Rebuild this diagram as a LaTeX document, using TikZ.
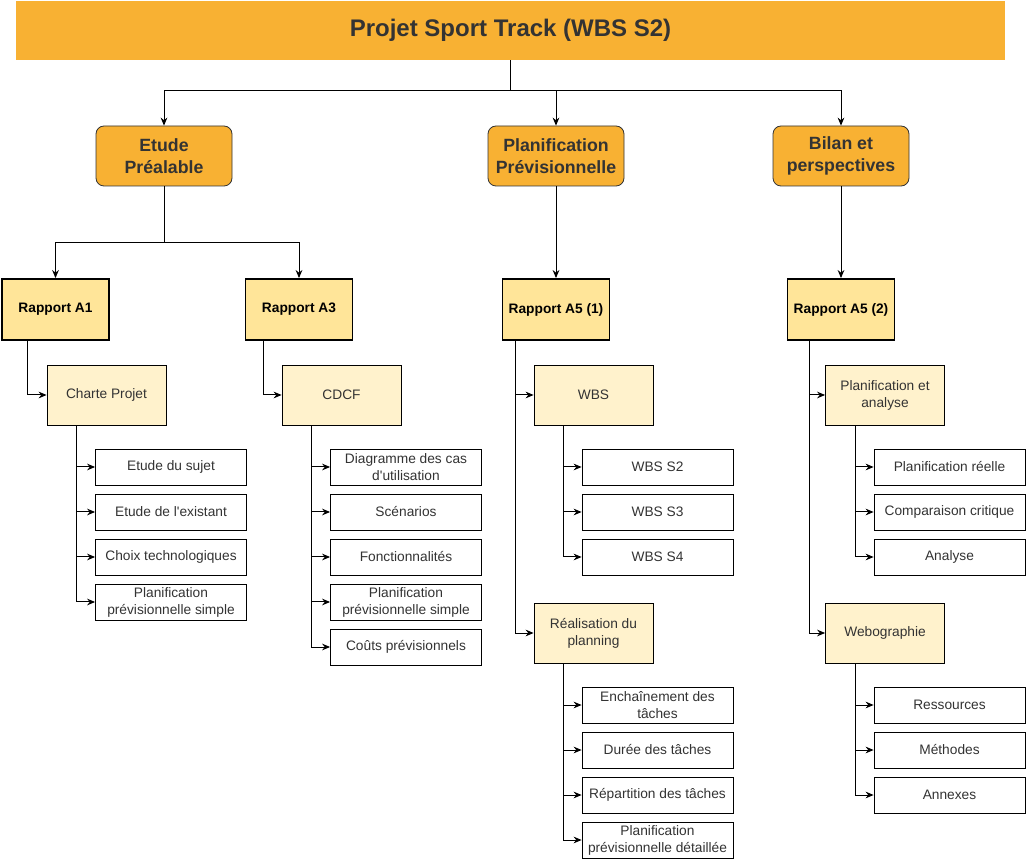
\documentclass[tikz,border=0pt]{standalone}
\usepackage{fontspec}
\setmainfont{Liberation Sans}
\usetikzlibrary{arrows.meta,calc}

\definecolor{wbsorange}{HTML}{F8B133}
\definecolor{wbsyellow}{HTML}{FFE599}
\definecolor{wbscream}{HTML}{FFF2CC}
\definecolor{wbstext}{HTML}{333333}

\tikzset{
  titlebox/.style={fill=wbsorange, minimum width=741.75pt, minimum height=44.25pt,
    inner sep=0pt, text=wbstext, font=\fontsize{18}{21}\selectfont\bfseries},
  phasebox/.style={draw=black!80, fill=wbsorange, rounded corners=6pt, line width=0.6pt,
    minimum width=102pt, minimum height=45pt, inner sep=0pt, align=center,
    text=wbstext, font=\fontsize{13.3}{16.5}\selectfont\bfseries},
  reportbox/.style={draw=black, fill=wbsyellow, line width=1.4pt,
    minimum width=80.25pt, minimum height=45.75pt, inner sep=0pt,
    font=\fontsize{10.3}{12}\selectfont\bfseries},
  partbox/.style={draw=black, fill=wbscream, line width=0.6pt,
    minimum width=89.25pt, minimum height=45pt, inner sep=0pt, align=center,
    text=wbstext, font=\fontsize{10.3}{12.75}\selectfont},
  taskbox/.style={draw=black, fill=white, line width=0.6pt,
    minimum width=113.25pt, minimum height=27pt, inner sep=0pt, align=center,
    text=wbstext, font=\fontsize{10.3}{12.75}\selectfont},
  link/.style={draw=black, line width=0.75pt, -{Stealth[length=6pt,width=5pt]}}
}

\begin{document}
\begin{tikzpicture}[x=0.75pt,y=-0.75pt]
\useasboundingbox (0,0) rectangle (1026,859);

% title and phases
\node[titlebox] (title) at (510.5,30.5) {Projet Sport Track (WBS S2)};
\node[phasebox] (etude) at (164,156) {Etude\\Préalable};
\node[phasebox] (planif) at (556,156) {Planification\\Prévisionnelle};
\node[phasebox] (bilan) at (841,156) {Bilan et\\perspectives};

\draw[line width=0.75pt] (title.south) -- ++(0,30) coordinate (bus);
\draw[link] (bus) -| (etude.north);
\draw[link] (bus) -| (planif.north);
\draw[link] (bus) -| (bilan.north);

% reports
\node[reportbox] (ra1) at (55.5,309.5) {Rapport A1};
\node[reportbox] (ra3) at (299,309.5) {Rapport A3};
\node[reportbox] (ra5a) at (556,309.5) {Rapport A5 (1)};
\node[reportbox] (ra5b) at (841,309.5) {Rapport A5 (2)};

\draw[line width=0.75pt] (etude.south) -- ++(0,56) coordinate (fork);
\draw[link] (fork) -| (ra1.north);
\draw[link] (fork) -| (ra3.north);
\draw[link] (planif) -- (ra5a);
\draw[link] (bilan) -- (ra5b);

% parts
\node[partbox] (charte) at (106.5,395) {Charte Projet};
\node[partbox] (cdcf) at (341.5,395) {CDCF};
\node[partbox] (wbs) at (593.5,395) {WBS};
\node[partbox] (realis) at (593.5,633) {Réalisation du\\planning};
\node[partbox] (planan) at (885,395) {Planification et\\analyse};
\node[partbox] (webo) at (885,633) {Webographie};

\draw[link] ($(ra1.south west)+(26,0)$) |- (charte.west);
\draw[link] ($(ra3.south west)+(19,0)$) |- (cdcf.west);
\draw[link] ($(ra5a.south west)+(14,0)$) |- (wbs.west);
\draw[link] ($(ra5a.south west)+(14,0)$) |- (realis.west);
\draw[link] ($(ra5b.south west)+(23,0)$) |- (planan.west);
\draw[link] ($(ra5b.south west)+(23,0)$) |- (webo.west);

% tasks
\foreach \name/\y/\label in {
    t1/467/Etude du sujet,
    t2/512/Etude de l\textquotesingle existant,
    t3/557/Choix technologiques,
    t4/602/{Planification\\prévisionnelle simple}} {
  \node[taskbox] (charte-\name) at (171,\y) {\label};
  \draw[link] ($(charte.south west)+(30,0)$) |- (charte-\name.west);
}
\foreach \name/\y/\label in {
    t1/467/{Diagramme des cas\\d\textquotesingle utilisation},
    t2/512/Scénarios,
    t3/557/Fonctionnalités,
    t4/602/{Planification\\prévisionnelle simple},
    t5/647/Coûts prévisionnels} {
  \node[taskbox] (cdcf-\name) at (406,\y) {\label};
  \draw[link] ($(cdcf.south west)+(30,0)$) |- (cdcf-\name.west);
}
\foreach \name/\y/\label in {
    t1/467/WBS S2,
    t2/512/WBS S3,
    t3/557/WBS S4} {
  \node[taskbox] (wbs-\name) at (657.5,\y) {\label};
  \draw[link] ($(wbs.south west)+(30,0)$) |- (wbs-\name.west);
}
\foreach \name/\y/\label in {
    t1/705/{Enchaînement des\\tâches},
    t2/750/Durée des tâches,
    t3/795/Répartition des tâches,
    t4/840/{Planification\\prévisionnelle détaillée}} {
  \node[taskbox] (realis-\name) at (657.5,\y) {\label};
  \draw[link] ($(realis.south west)+(30,0)$) |- (realis-\name.west);
}
\foreach \name/\y/\label in {
    t1/467/Planification réelle,
    t2/512/Comparaison critique,
    t3/557/Analyse} {
  \node[taskbox] (planan-\name) at (949.5,\y) {\label};
  \draw[link] ($(planan.south west)+(30,0)$) |- (planan-\name.west);
}
\foreach \name/\y/\label in {
    t1/705/Ressources,
    t2/750/Méthodes,
    t3/795/Annexes} {
  \node[taskbox] (webo-\name) at (949.5,\y) {\label};
  \draw[link] ($(webo.south west)+(30,0)$) |- (webo-\name.west);
}
\end{tikzpicture}
\end{document}
